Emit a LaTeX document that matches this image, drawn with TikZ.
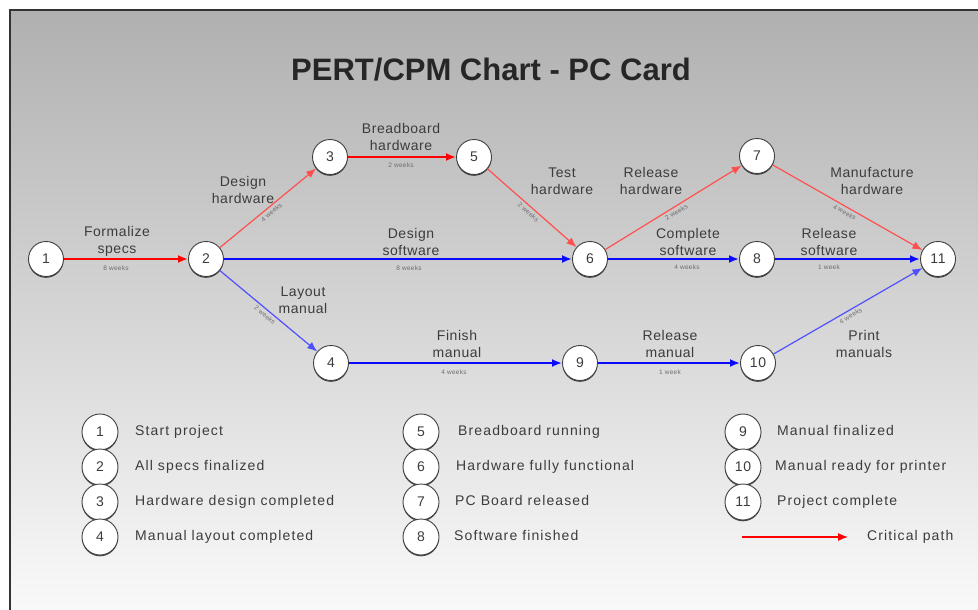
\documentclass[tikz,border=0pt]{standalone}
\usepackage{fontspec}
\setmainfont{Liberation Sans}[LetterSpace=4]
\newfontfamily\titlefont{Liberation Sans}
\newfontfamily\legendfont{Liberation Sans}[LetterSpace=8]
\usetikzlibrary{arrows.meta,shadows}
\definecolor{bgtop}{RGB}{176,176,176}
\definecolor{bgbot}{RGB}{251,251,251}
\definecolor{critred}{RGB}{255,0,0}
\definecolor{lightred}{RGB}{255,80,80}
\definecolor{mainblue}{RGB}{10,10,255}
\definecolor{lightblue}{RGB}{80,80,255}
\definecolor{txt}{RGB}{60,60,60}
\definecolor{durc}{RGB}{110,110,110}
\tikzset{
  ev/.style={circle, draw=black!75, fill=white, line width=0.9pt, minimum size=35pt,
    inner sep=0pt, font=\fontsize{14}{14}\selectfont, text=txt,
    drop shadow={shadow xshift=0pt, shadow yshift=-1.3pt, opacity=0.7, fill=black}},
  lgev/.style={ev, minimum size=36pt},
  tip/.style={-{Latex[length=10pt,width=8pt]}},
  critthick/.style={tip, draw=critred, line width=2.4pt},
  critthin/.style={tip, draw=lightred, line width=1.2pt},
  bluethick/.style={tip, draw=mainblue, line width=2.4pt},
  bluethin/.style={tip, draw=lightblue, line width=1.2pt},
  lbl/.style={font=\fontsize{14}{17}\selectfont, text=txt, align=center},
  dur/.style={font=\fontsize{6.5}{6.5}\selectfont, text=durc, inner sep=1pt},
  sdur/.style={dur, sloped, below, midway, inner sep=2.5pt},
  lgtext/.style={font=\legendfont\fontsize{14}{14}\selectfont, text=txt, anchor=west,
    inner sep=0pt, text height=10pt, text depth=3pt},
}
\begin{document}
\begin{tikzpicture}[x=1pt,y=-1pt]
\useasboundingbox (0,0) rectangle (978,610);
\clip (0,0) rectangle (978,610);
\fill[white] (0,0) rectangle (978,610);
\shade[top color=bgtop, bottom color=bgbot, draw=black!80, line width=1.8pt] (10,10) rectangle (995,625);

\node[font=\titlefont\bfseries\fontsize{31}{31}\selectfont, text=black!85] (title) at (491,70) {PERT/CPM Chart - PC Card};

% events
\node[ev] (n1) at (46,259) {1};
\node[ev] (n2) at (206,259) {2};
\node[ev] (n3) at (330,157) {3};
\node[ev] (n5) at (474,157) {5};
\node[ev] (n6) at (590,259) {6};
\node[ev] (n7) at (757,156) {7};
\node[ev] (n8) at (757,259) {8};
\node[ev] (n11) at (938,259) {11};
\node[ev] (n4) at (331,363) {4};
\node[ev] (n9) at (580,363) {9};
\node[ev] (n10) at (758,363) {10};

% connectors
\draw[critthick] (n1) -- (n2);
\draw[critthin] (n2) -- node[sdur] {4 weeks} (n3);
\draw[critthick] (n3) -- (n5);
\draw[critthin] (n5) -- node[sdur] {2 weeks} (n6);
\draw[bluethick] (n2) -- (n6);
\draw[critthin] (n6) -- node[sdur] {2 weeks} (n7);
\draw[bluethick] (n6) -- (n8);
\draw[critthin] (n7) -- node[sdur] {4 weeks} (n11);
\draw[bluethick] (n8) -- (n11);
\draw[bluethin] (n2) -- node[sdur] {2 weeks} (n4);
\draw[bluethick] (n4) -- (n9);
\draw[bluethick] (n9) -- (n10);
\draw[bluethin] (n10) -- node[sdur] {4 weeks} (n11);

% activity labels
\node[lbl] (l12) at (117,241.5) {Formalize\\specs};
\node[lbl] (l23) at (243,189.5) {Design\\hardware};
\node[lbl] (l35) at (401,137) {Breadboard\\hardware};
\node[lbl] (l56) at (562,181) {Test\\hardware};
\node[lbl] (l26) at (411,242) {Design\\software};
\node[lbl] (l67) at (651,181) {Release\\hardware};
\node[lbl] (l68) at (688,241.5) {Complete\\software};
\node[lbl] (l711) at (872,181) {Manufacture\\hardware};
\node[lbl] (l811) at (829,241.5) {Release\\software};
\node[lbl] (l24) at (303,300) {Layout\\manual};
\node[lbl] (l49) at (457,343.5) {Finish\\manual};
\node[lbl] (l910) at (670,343.5) {Release\\manual};
\node[lbl] (l1011) at (864,343.5) {Print\\manuals};

% durations on horizontal connectors
\node[dur] (d12) at (116,268) {8 weeks};
\node[dur] (d35) at (401,165) {2 weeks};
\node[dur] (d26) at (409,268) {8 weeks};
\node[dur] (d68) at (687,267) {4 weeks};
\node[dur] (d811) at (829,267) {1 week};
\node[dur] (d49) at (454,372) {4 weeks};
\node[dur] (d910) at (670,372) {1 week};

% legend
\node[lgev] (k1) at (100,432) {1};
\node[lgev] (k2) at (100,467) {2};
\node[lgev] (k3) at (100,502) {3};
\node[lgev] (k4) at (100,537) {4};
\node[lgtext] (t1) at (135,432) {Start project};
\node[lgtext] (t2) at (135,467) {All specs finalized};
\node[lgtext] (t3) at (135,502) {Hardware design completed};
\node[lgtext] (t4) at (135,537) {Manual layout completed};

\node[lgev] (k5) at (421,432) {5};
\node[lgev] (k6) at (421,467) {6};
\node[lgev] (k7) at (421,502) {7};
\node[lgev] (k8) at (421,537) {8};
\node[lgtext] (t5) at (458,432) {Breadboard running};
\node[lgtext] (t6) at (456,467) {Hardware fully functional};
\node[lgtext] (t7) at (455,502) {PC Board released};
\node[lgtext] (t8) at (454,537) {Software finished};

\node[lgev] (k9) at (743,432) {9};
\node[lgev] (k10) at (743,467) {10};
\node[lgev] (k11) at (743,502) {11};
\node[lgtext] (t9) at (777,432) {Manual finalized};
\node[lgtext] (t10) at (775,467) {Manual ready for printer};
\node[lgtext] (t11) at (777,502) {Project complete};

\coordinate (cpa) at (742,537);
\coordinate (cpb) at (848,537);
\draw[tip, draw=critred, line width=1.2pt] (cpa) -- (cpb);
\node[lgtext] (tcp) at (867,537) {Critical path};
\end{tikzpicture}
\end{document}
